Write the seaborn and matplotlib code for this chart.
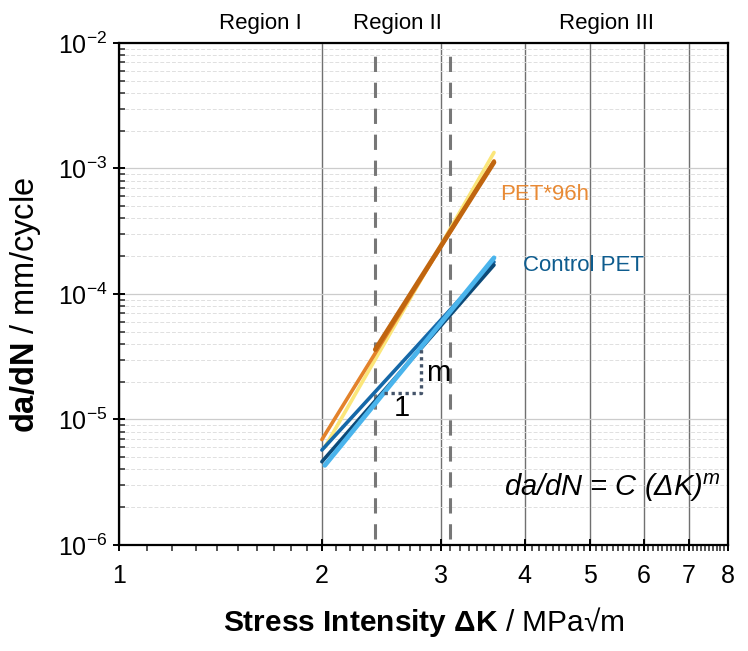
import numpy as np
import matplotlib
matplotlib.use("Agg")
import matplotlib.pyplot as plt
import matplotlib.ticker as mticker
import seaborn as sns

# fitted Paris-law lines, x = stress intensity dK, y = da/dN
k_full = [2.0, 3.6]
k_pet_dark = [2.4, 3.6]
k_late = [2.02, 3.6]

pet_orange = [6.9e-6, 1.15e-3]
pet_dark = [3.6e-5, 1.12e-3]
pet_yellow = [6.0e-6, 1.34e-3]
ctrl_mid = [5.7e-6, 1.8e-4]
ctrl_navy = [4.6e-6, 1.7e-4]
ctrl_light = [4.3e-6, 1.94e-4]

# region boundaries and labels
region_bounds = [2.4, 3.1]
region_names = ["Region I", "Region II", "Region III"]
region_label_x = [1.62, 2.59, 5.29]

# slope triangle
slope_k = [2.47, 2.81, 2.81]
slope_y = [1.63e-5, 1.63e-5, 3.72e-5]

x_ticks = [1, 2, 3, 4, 5, 6, 7, 8]
y_ticks = [1e-6, 1e-5, 1e-4, 1e-3, 1e-2]

sns.set_theme(style="white")
plt.rcParams['font.family'] = ['Liberation Sans', 'DejaVu Sans']
plt.rcParams['mathtext.fontset'] = 'custom'
plt.rcParams['mathtext.rm'] = 'Liberation Sans'
plt.rcParams['mathtext.it'] = 'Liberation Sans:italic'
plt.rcParams['mathtext.bf'] = 'Liberation Sans:bold'
plt.rcParams['text.color'] = 'black'
plt.rcParams['axes.labelcolor'] = 'black'

fig = plt.figure(figsize=(7.48, 6.51), dpi=100)
ax = fig.add_axes([0.159, 0.163, 0.814, 0.771])
ax.set_xscale('log')
ax.set_yscale('log')
ax.set_xlim(1, 8)
ax.set_ylim(1e-6, 1e-2)

# grid
ax.set_axisbelow(True)
ax.grid(True, which='major', axis='y', color='#cccccc', lw=0.9)
ax.grid(True, which='minor', axis='y', color='#e0e0e0', lw=0.7, ls=(0, (4, 2)))
ax.grid(True, which='major', axis='x', color='#707070', lw=1.0)

for b in region_bounds:
    ax.axvline(b, ymin=0.012, ymax=0.985, color='#777777', lw=2.2, ls=(0, (5, 3.5)), zorder=2)

# PET*96h lines
sns.lineplot(x=k_late, y=pet_yellow, color='#fbe67a', lw=2.6, ax=ax, zorder=3)
sns.lineplot(x=k_full, y=pet_orange, color='#e3822b', lw=2.6, ax=ax, zorder=3)
sns.lineplot(x=k_pet_dark, y=pet_dark, color='#c0650f', lw=3.4, ax=ax, zorder=3)

# Control PET lines
sns.lineplot(x=k_full, y=ctrl_mid, color='#1568a8', lw=2.6, ax=ax, zorder=3)
sns.lineplot(x=k_full, y=ctrl_navy, color='#0c4a78', lw=2.6, ax=ax, zorder=3)
sns.lineplot(x=k_late, y=ctrl_light, color='#4ab4ec', lw=3.4, ax=ax, zorder=3)

# slope triangle
sns.lineplot(x=slope_k, y=slope_y, sort=False, estimator=None, color='#44546a',
             lw=2.4, ls=(0, (1, 1.1)), ax=ax, zorder=4)
ax.text(2.97, 2.34e-5, "m", fontsize=21, ha='center', va='center', zorder=5)
ax.text(2.63, 1.24e-5, "1", fontsize=21, ha='center', va='center', zorder=5)

ax.text(3.67, 6.2e-4, "PET*96h", color='#e88a35', fontsize=16, va='center')
ax.text(3.97, 1.67e-4, "Control PET", color='#0e5c8e', fontsize=16, va='center')
ax.text(3.72, 2.84e-6, "da/dN = C (ΔK)$^{m}$", fontsize=21, style='italic', va='center')

for name, xr in zip(region_names, region_label_x):
    ax.text(xr, 1.038, name, transform=ax.get_xaxis_transform(), fontsize=16,
            ha='center', va='center')

# ticks
ax.xaxis.set_major_locator(mticker.FixedLocator(x_ticks))
ax.xaxis.set_major_formatter(mticker.FuncFormatter(lambda v, p: f"{v:g}"))
ax.xaxis.set_minor_locator(mticker.MultipleLocator(0.1))
ax.xaxis.set_minor_formatter(mticker.NullFormatter())
ax.yaxis.set_major_locator(mticker.FixedLocator(y_ticks))
ax.yaxis.set_major_formatter(mticker.FuncFormatter(
    lambda v, p: "10$^{%d}$" % round(np.log10(v))))
ax.yaxis.set_minor_locator(mticker.LogLocator(base=10, subs=np.arange(2, 10)))
ax.yaxis.set_minor_formatter(mticker.NullFormatter())

ax.tick_params(which='major', direction='inout', length=9, width=1.4,
               labelsize=18, colors='black', pad=4)
ax.tick_params(axis='x', which='minor', direction='out', length=4, width=1.1)
ax.tick_params(axis='y', which='minor', direction='in', length=4, width=1.1)
ax.tick_params(axis='x', which='major', pad=9)
ax.tick_params(axis='both', which='both', bottom=True, left=True, top=False, right=False)

for s in ax.spines.values():
    s.set_color('black')
    s.set_linewidth(1.6)

ax.set_xlabel(r"$\mathbf{Stress\ Intensity\ \Delta K}$ / MPa√m", fontsize=21.5)
ax.set_ylabel(r"$\mathbf{da/dN}$ / mm/cycle", fontsize=23.5)
ax.xaxis.set_label_coords(0.5, -0.12)
ax.yaxis.set_label_coords(-0.125, 0.478)

fig.savefig("out.png", dpi=100)
